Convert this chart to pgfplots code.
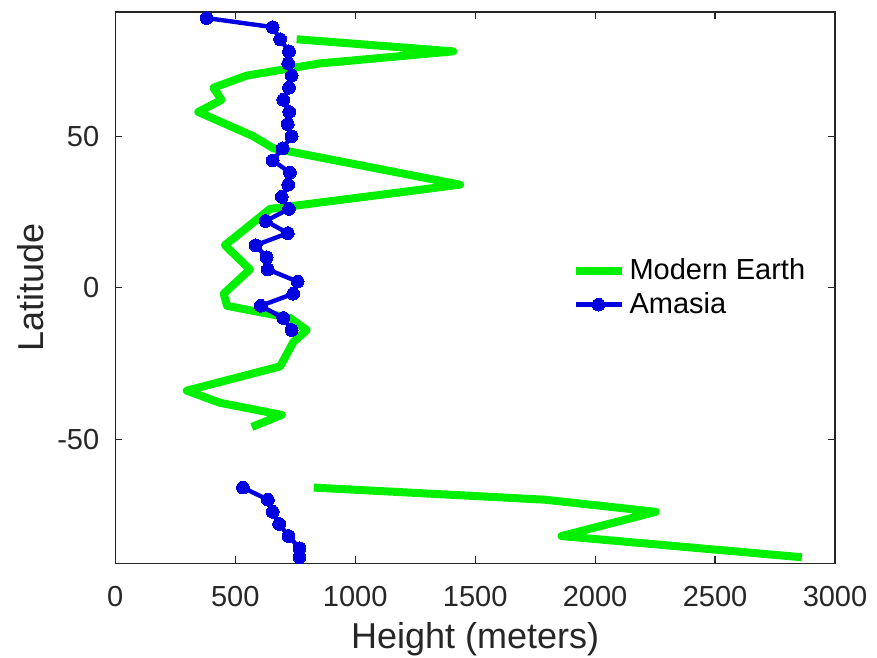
\documentclass[border=0pt]{standalone}
\usepackage{fontspec}
\setmainfont{Liberation Sans}
\usepackage{pgfplots}
\pgfplotsset{compat=1.18}
\definecolor{mgreen}{RGB}{0,240,0}
\definecolor{mblue}{RGB}{0,0,225}
\definecolor{axgray}{RGB}{38,38,38}

\begin{document}
\begin{tikzpicture}
\begin{axis}[
  name=ax, scale only axis, width=359.85pt, height=275.65pt,
  xmin=0, xmax=3000, ymin=-91, ymax=91,
  xtick={0,500,...,3000}, ytick={-50,0,50},
  /pgf/number format/assume math mode=true,
  /pgf/number format/1000 sep={},
  tick label style={font=\fontsize{14.5}{17}\selectfont, text=axgray},
  xticklabel style={yshift=-8pt},
  yticklabel style={xshift=-4.5pt},
  label style={font=\fontsize{18}{21}\selectfont, text=axgray},
  xlabel={Height (meters)}, ylabel={Latitude},
  xlabel style={at={(axis description cs:0.5,-0.137)}, anchor=center},
  ylabel style={at={(axis description cs:-0.118,0.5)}, anchor=center},
  axis line style={axgray, line width=0.6pt},
  major tick length=3.5pt,
  tick style={axgray, line width=0.6pt},
  unbounded coords=jump,
  legend style={draw=none, fill=none, at={(0.625,0.5)}, anchor=west,
    font=\fontsize{14.5}{17}\selectfont, row sep=1pt},
  legend cell align=left,
  legend image code/.code={\draw[mark repeat=2,mark phase=2] plot coordinates {(0pt,0pt)(11.5pt,0pt)(23pt,0pt)};},
]
% Modern Earth
\addplot[mgreen, line width=4pt, line join=round, no markers] coordinates {
(756,82)(1409,78)(850,74)(548,70)(409,66)(443,62)(346,58)(575,50)(659,46)
(1437,34)(645,26)(457,14)(561,6)(452,-2)(466,-6)(728,-10)(798,-14)(742,-18)
(687,-26)(298,-34)(436,-38)(694,-42)(569,-46)
(nan,nan)
(827,-66)(1791,-70)(2253,-74)(1860,-82)(2862,-89)
};
\addlegendentry{Modern Earth}
% Amasia
\addplot[mblue, line width=2.2pt, mark=*, mark size=3.2pt, mark options={solid, fill=mblue, draw=mblue, line width=0pt}] coordinates {
(381,89)(656,86)(687,82)(724,78)(721,74)(735,70)(724,66)(700,62)(725,58)
(719,54)(735,50)(698,46)(656,42)(728,38)(721,34)(694,30)(724,26)(627,22)
(719,18)(585,14)(631,10)(636,6)(760,2)(742,-2)(606,-6)(700,-10)(735,-14)
(nan,nan)
(532,-66)(636,-70)(656,-74)(683,-78)(722,-82)(768,-86)(768,-89)
};
\addlegendentry{Amasia}
\end{axis}
\pgfresetboundingbox
\path ([xshift=-57.65pt,yshift=-46.85pt]ax.south west) rectangle ([xshift=21pt,yshift=6pt]ax.north east);
\end{tikzpicture}
\end{document}
